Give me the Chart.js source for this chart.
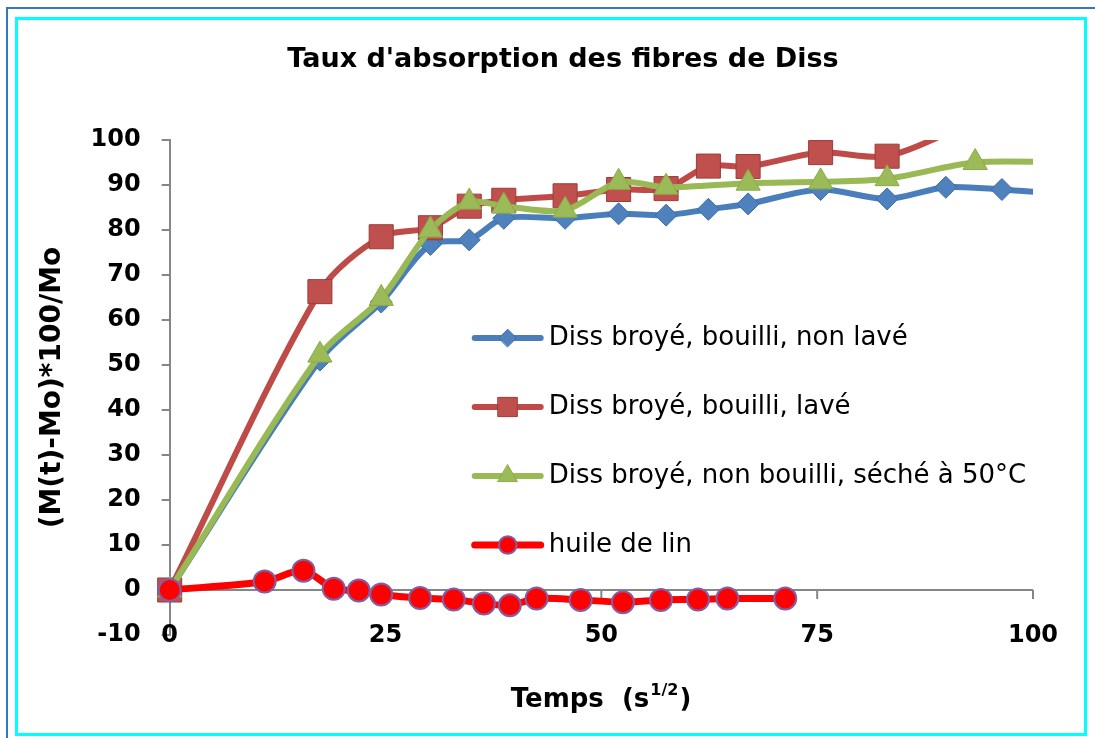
<!DOCTYPE html>
<html>
<head>
<meta charset="utf-8">
<title>Taux d'absorption des fibres de Diss</title>
<script src="https://cdn.jsdelivr.net/npm/chart.js@4.4.1/dist/chart.umd.min.js"></script>
<style>
  html, body { margin: 0; padding: 0; background: #fff; }
  body { width: 1095px; height: 738px; position: relative; overflow: hidden; }
  #absChart { position: absolute; left: 0; top: 0; }
  .frameOuter { position: absolute; left: 6px; top: 7px; width: 1200px; height: 800px;
                border-top: 2px solid #2f78c4; border-left: 2px solid #2f78c4; }
  .frameInner { position: absolute; left: 15px; top: 17px; width: 1066px; height: 713px;
                border: 3px solid #00ffff; }
</style>
</head>
<body>
<div class="frameOuter"></div>
<div class="frameInner"></div>
<canvas id="absChart" width="1095" height="738"></canvas>
<script>
const chartTitle = "Taux d'absorption des fibres de Diss";

// Legend labels
const seriesLabels = [
    'Diss broyé, bouilli, non lavé',
    'Diss broyé, bouilli, lavé',
    'Diss broyé, non bouilli, séché à 50°C',
    'huile de lin'
];

// Time (s^1/2) and absorption (%)
const timeNonLave = [0, 17.4, 24.5, 30.2, 34.7, 38.7, 45.8, 52, 57.5, 62.4, 67, 75.4, 83.1, 89.9, 96.4, 103];
const absNonLave  = [0, 51.1, 64, 76.8, 77.8, 82.6, 82.6, 83.6, 83.3, 84.6, 85.8, 89, 86.9, 89.5, 89, 88];

const timeLave = [0, 17.4, 24.5, 30.2, 34.7, 38.7, 45.8, 52, 57.5, 62.4, 67, 75.4, 83.1, 92, 99];
const absLave  = [0, 66.3, 78.5, 80.5, 85.3, 86.6, 87.6, 89, 89.2, 94.2, 94.1, 97.2, 96.4, 103, 107];

const timeSeche = [0, 17.4, 24.5, 30.2, 34.7, 38.7, 45.8, 52, 57.5, 67, 75.4, 83.1, 93.3, 104];
const absSeche  = [0, 52.2, 64.8, 80, 86.2, 85.3, 84.4, 90.6, 89.5, 90.4, 90.7, 91.4, 95, 95];

const timeHuile = [0, 11, 15.5, 19, 21.9, 24.5, 29, 32.9, 36.4, 39.4, 42.5, 47.6, 52.5, 56.9, 61.2, 64.6, 71.3];
const absHuile  = [0, 1.9, 4.3, 0.3, -0.1, -1, -1.8, -2.1, -3, -3.4, -1.9, -2.2, -2.7, -2.2, -2.1, -1.9, -1.9];

const fontFamily = 'DejaVu Sans';
const axisGray = '#868686';

function toPoints(xs, ys) {
    return xs.map((x, i) => ({ x: x, y: ys[i] }));
}

// chart title, a bit right of the canvas centre like the original
const titlePlugin = {
    id: 'chartTitle',
    afterDraw(chart) {
        const { ctx } = chart;
        ctx.save();
        ctx.fillStyle = '#000';
        ctx.font = 'bold 27px "' + fontFamily + '"';
        ctx.textAlign = 'center';
        ctx.textBaseline = 'middle';
        ctx.fillText(chartTitle, 563, 60);
        ctx.restore();
    }
};

// zero line with its tick marks (the Excel horizontal axis crosses at 0),
// labels sit low, level with the -10 tick
const zeroAxisPlugin = {
    id: 'zeroAxis',
    beforeDatasetsDraw(chart) {
        const { ctx, chartArea, scales } = chart;
        const y0 = scales.y.getPixelForValue(0);
        ctx.save();
        ctx.strokeStyle = axisGray;
        ctx.lineWidth = 2;
        ctx.beginPath();
        ctx.moveTo(chartArea.left, y0);
        ctx.lineTo(chartArea.right, y0);
        scales.x.ticks.forEach(t => {
            const px = scales.x.getPixelForValue(t.value);
            ctx.moveTo(px, y0);
            ctx.lineTo(px, y0 + 9);
        });
        ctx.stroke();
        ctx.fillStyle = '#000';
        ctx.font = 'bold 24px "' + fontFamily + '"';
        ctx.textAlign = 'center';
        ctx.textBaseline = 'middle';
        scales.x.ticks.forEach(t => {
            ctx.fillText(String(t.value), scales.x.getPixelForValue(t.value), chartArea.bottom + 1);
        });
        ctx.restore();
    }
};

// legend drawn inside the plot area
const innerLegendPlugin = {
    id: 'innerLegend',
    afterDatasetsDraw(chart) {
        const { ctx, chartArea } = chart;
        const x0 = chartArea.left + 305;
        const x1 = x0 + 66;
        ctx.save();
        chart.data.datasets.forEach((ds, i) => {
            const y = chartArea.top + 198 + i * 69;
            ctx.strokeStyle = ds.borderColor;
            ctx.lineWidth = ds.borderWidth;
            ctx.lineCap = 'round';
            ctx.beginPath();
            ctx.moveTo(x0, y);
            ctx.lineTo(x1, y);
            ctx.stroke();
            ctx.fillStyle = ds.pointBackgroundColor;
            ctx.strokeStyle = ds.pointBorderColor;
            ctx.lineWidth = ds.pointBorderWidth;
            Chart.helpers.drawPoint(ctx, {
                pointStyle: ds.pointStyle,
                radius: ds.pointRadius * 0.8,
                borderWidth: ds.pointBorderWidth,
                rotation: 0
            }, (x0 + x1) / 2, y);
            ctx.fillStyle = '#000';
            ctx.font = '26px "' + fontFamily + '"';
            ctx.textBaseline = 'middle';
            ctx.textAlign = 'left';
            ctx.fillText(ds.label, x1 + 8, y);
        });
        ctx.restore();
    }
};

// x axis title with the 1/2 exponent
const xTitlePlugin = {
    id: 'xTitle',
    afterDraw(chart) {
        const { ctx } = chart;
        const cx = 601, cy = 700;
        const main = 'bold 26px "' + fontFamily + '"';
        const sup = 'bold 16px "' + fontFamily + '"';
        ctx.save();
        ctx.fillStyle = '#000';
        ctx.textBaseline = 'middle';
        ctx.font = main;
        const partA = 'Temps  (s', partC = ')', partB = '1/2';
        const wA = ctx.measureText(partA).width;
        const wC = ctx.measureText(partC).width;
        ctx.font = sup;
        const wB = ctx.measureText(partB).width;
        let x = cx - (wA + wB + wC + 2) / 2;
        ctx.font = main;
        ctx.textAlign = 'left';
        ctx.fillText(partA, x, cy);
        x += wA + 1;
        ctx.font = sup;
        ctx.fillText(partB, x, cy - 9);
        x += wB + 1;
        ctx.font = main;
        ctx.fillText(partC, x, cy);
        ctx.restore();
    }
};

const plotClip = { left: 30, top: 0, right: 0, bottom: 30 };

const datasets = [
    {
        label: seriesLabels[0],
        data: toPoints(timeNonLave, absNonLave),
        borderColor: '#4a7ebb',
        borderWidth: 6,
        pointStyle: 'rectRot',
        pointRadius: 11,
        pointBackgroundColor: '#4f81bd',
        pointBorderColor: '#3d6da8',
        pointBorderWidth: 1,
        order: 3
    },
    {
        label: seriesLabels[1],
        data: toPoints(timeLave, absLave),
        borderColor: '#be4b48',
        borderWidth: 6,
        pointStyle: 'rect',
        pointRadius: 17,
        pointBackgroundColor: '#c0504d',
        pointBorderColor: '#9b3b38',
        pointBorderWidth: 1,
        order: 2
    },
    {
        label: seriesLabels[2],
        data: toPoints(timeSeche, absSeche),
        borderColor: '#98b954',
        borderWidth: 6,
        pointStyle: 'triangle',
        pointRadius: 14,
        pointBackgroundColor: '#9bbb59',
        pointBorderColor: '#8aab48',
        pointBorderWidth: 1,
        order: 1
    },
    {
        label: seriesLabels[3],
        data: toPoints(timeHuile, absHuile),
        borderColor: '#ff0000',
        borderWidth: 7,
        pointStyle: 'circle',
        pointRadius: 11,
        pointBackgroundColor: '#ff0000',
        pointBorderColor: '#7f60a8',
        pointBorderWidth: 2,
        order: 0
    }
];
datasets.forEach(ds => {
    ds.tension = 0.3;
    ds.clip = plotClip;
    ds.fill = false;
    ds.backgroundColor = ds.pointBackgroundColor;
});

new Chart(document.getElementById('absChart').getContext('2d'), {
    type: 'line',
    data: { datasets: datasets },
    plugins: [zeroAxisPlugin, innerLegendPlugin, xTitlePlugin, titlePlugin],
    options: {
        responsive: false,
        animation: false,
        events: [],
        layout: { padding: { left: 0, right: 62, top: 140, bottom: 103 } },
        plugins: {
            legend: { display: false },
            tooltip: { enabled: false },
            title: { display: false }
        },
        scales: {
            x: {
                type: 'linear',
                min: 0,
                max: 100,
                grid: { display: false, drawTicks: false },
                border: { display: false },
                ticks: { stepSize: 25, display: false }
            },
            y: {
                min: -10,
                max: 100,
                grid: { drawOnChartArea: false, drawTicks: true, tickLength: 8, color: axisGray, lineWidth: 2 },
                border: { display: true, color: axisGray, width: 2 },
                ticks: {
                    stepSize: 10,
                    padding: 21,
                    color: '#000',
                    font: { family: fontFamily, size: 24, weight: 'bold' }
                },
                title: {
                    display: true,
                    text: '(M(t)-Mo)*100/Mo',
                    color: '#000',
                    font: { family: fontFamily, size: 28, weight: 'bold' },
                    padding: { top: 36, bottom: 0 }
                }
            }
        }
    }
});
</script>
</body>
</html>
